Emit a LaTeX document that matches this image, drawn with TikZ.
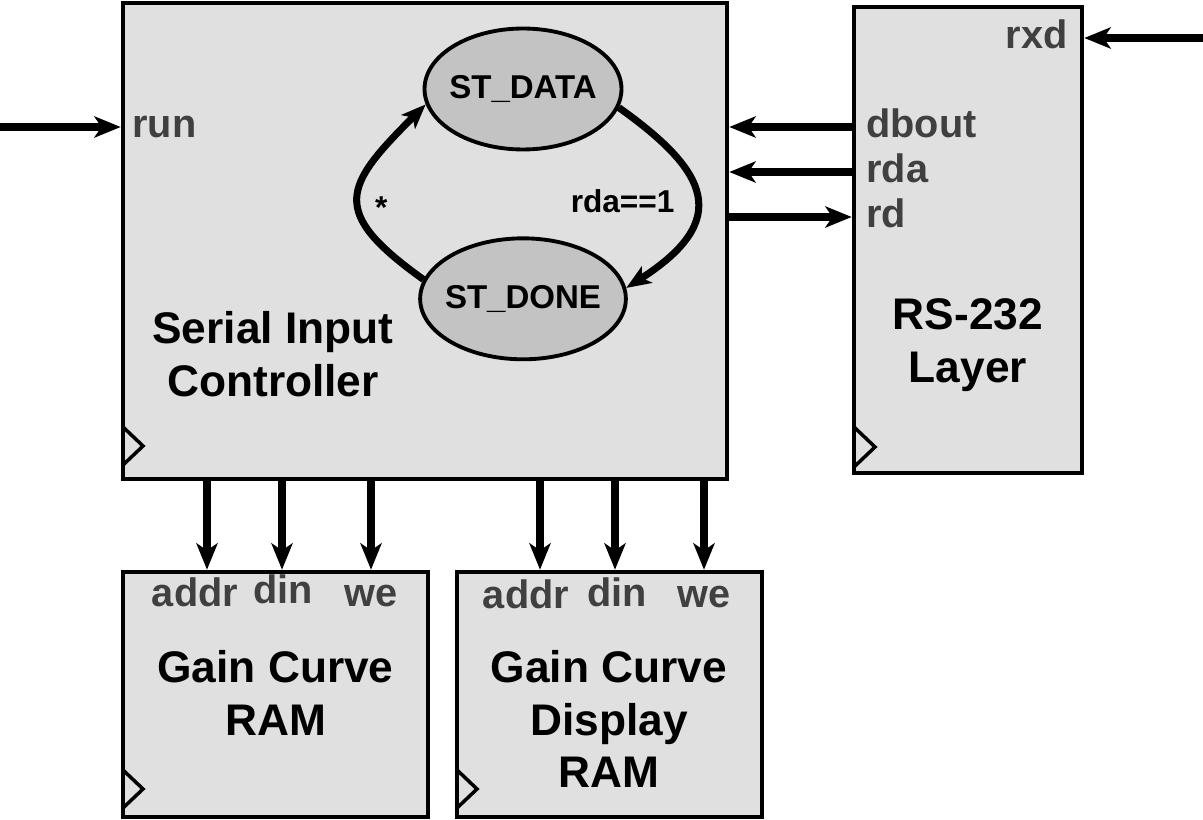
\documentclass[tikz,border=0pt]{standalone}
\usepackage{fontspec}
\setmainfont{Liberation Sans}
\usepackage{tikz}
\usetikzlibrary{shapes.geometric,arrows.meta,positioning}
\definecolor{boxgray}{HTML}{E0E0E0}
\definecolor{stategray}{HTML}{C3C3C3}
\definecolor{pingray}{HTML}{404040}
\tikzstyle{block}=[draw,%
                   rectangle,%
                   fill=boxgray,%
                   line width=2.6pt,%
                   inner sep=0pt]
\tikzstyle{state}=[draw,fill=stategray,ellipse,line width=2.2pt,inner ysep=0pt,inner xsep=-3pt,minimum width=3.94cm,minimum height=2.42cm,font=\fontsize{18.8}{22}\selectfont\bfseries]
\tikzstyle{title}=[align=center,inner sep=0pt,font=\fontsize{25.2}{30}\selectfont\bfseries]
\tikzstyle{pin}=[inner sep=0pt,text=pingray,text height=12.5pt,text depth=0pt,font=\fontsize{22.6}{26}\selectfont\bfseries]
\tikzstyle{cond}=[inner sep=0pt,font=\fontsize{18}{22}\selectfont\bfseries]
\tikzstyle{sig}=[-{Stealth[length=15pt,width=12pt,inset=4pt]},line width=4.5pt]
\tikzstyle{trans}=[-{Stealth[length=14pt,width=11pt,inset=3.5pt]},line width=4pt]
\tikzstyle{clk}=[line width=2pt]

\begin{document}
\begin{tikzpicture}[x=0.02cm,y=-0.02cm]
            \useasboundingbox (0,0) rectangle (1203,820);
            % blocks
            \node[block,minimum width=12.08cm,minimum height=9.52cm] (ctrl) at (425,241) {};
            \node[block,minimum width=4.56cm,minimum height=9.32cm] (rs) at (968,240) {};
            \node[block,minimum width=6.1cm,minimum height=4.9cm] (gcram) at (275.5,694.5) {};
            \node[block,minimum width=6.1cm,minimum height=4.9cm,right=0.49cm of gcram] (dispram) {};
            \draw[clk] (123,427) -- (143,446) -- (123,465);
            \draw[clk] (854,427) -- (875,447) -- (854,467);
            \draw[clk] (123,770) -- (143,789) -- (123,808);
            \draw[clk] (457,770) -- (477,789) -- (457,808);
            \node[title] (ctrltitle) at (273,354) {Serial Input\\Controller};
            \node[title] (rstitle) at (968,345) {RS-232\\Layer};
            \node[title] (gctitle) at (275.5,693) {Gain Curve\\RAM};
            \node[title] (disptitle) at (609,719) {Gain Curve\\Display\\RAM};
            % state machine
            \node[state] (data) at (523,89) {ST\_DATA};
            \node[state][below=1.7cm of data] (done) {ST\_DONE};
            \draw[trans] (done.169) .. controls +(-95,-68) and +(-82,82) .. (data.189)
                node[cond,midway,anchor=west,xshift=0.27cm,yshift=-0.2cm] {*};
            \draw[trans] (data.349) .. controls +(90,64) and +(106,-68) .. (done.6)
                node[cond,midway,anchor=east,xshift=-0.36cm,yshift=-0.1cm] {rda==1};
            % pins
            \node[pin,anchor=west] (run) at (132,127) {run};
            \node[pin,anchor=west] (dbout) at (866,127) {dbout};
            \node[pin,anchor=west] (rda) at (866,172) {rda};
            \node[pin,anchor=west] (rd) at (866,217) {rd};
            \node[pin,anchor=east] (rxd) at (1068,38) {rxd};
            \node[pin,anchor=base] (addrA) at (195,606) {addr};
            \node[pin,anchor=base] (dinA) at (283,603) {din};
            \node[pin,anchor=base] (weA) at (371,606) {we};
            \node[pin,anchor=base] (addrB) at (526,608) {addr};
            \node[pin,anchor=base] (dinB) at (617,606) {din};
            \node[pin,anchor=base] (weB) at (704,607) {we};
            % signals
            \coordinate (runin) at (0,127);
            \coordinate (rxdin) at (1203,38);
            \draw[sig] (runin) -- (ctrl.west |- run);
            \draw[sig] (rs.west |- dbout) -- (ctrl.east |- dbout);
            \draw[sig] (rs.west |- rda) -- (ctrl.east |- rda);
            \draw[sig] (ctrl.east |- rd) -- (rs.west |- rd);
            \draw[sig] (rxdin) -- (rs.east |- rxd);
            \foreach \px in {207,282,371}
                \draw[sig] (ctrl.south -| \px,0) -- (gcram.north -| \px,0);
            \foreach \px in {540,615,704}
                \draw[sig] (ctrl.south -| \px,0) -- (dispram.north -| \px,0);
\end{tikzpicture}
\end{document}
